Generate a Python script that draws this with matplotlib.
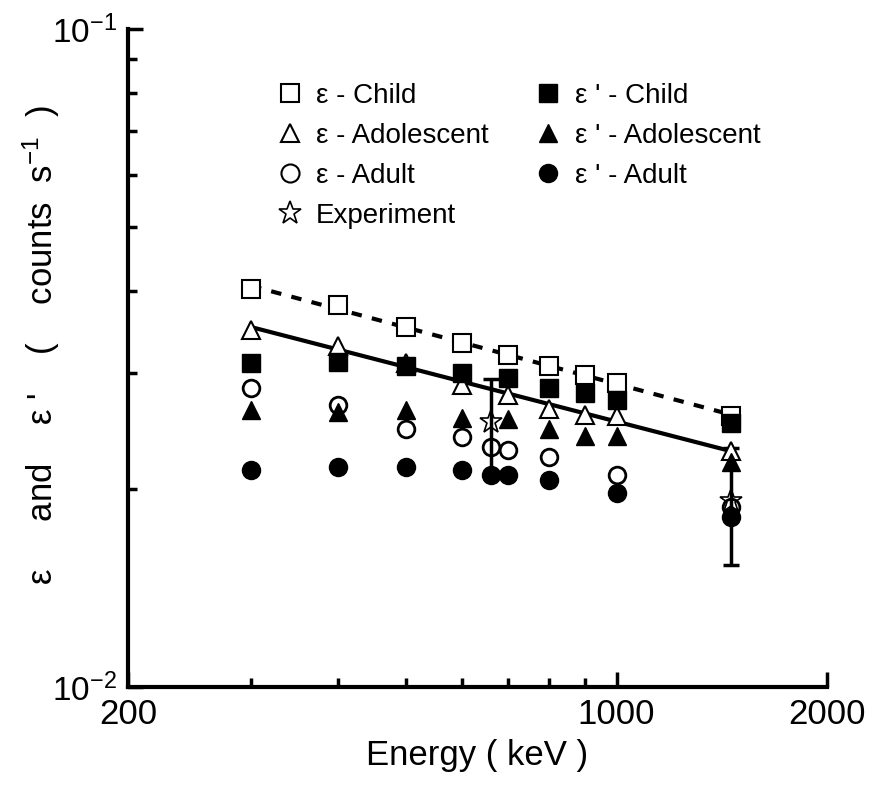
import numpy as np
import matplotlib
matplotlib.use("Agg")
import matplotlib.pyplot as plt
from matplotlib.lines import Line2D
from matplotlib.ticker import FixedLocator, NullFormatter

plt.rcParams['font.family'] = ['Liberation Sans', 'DejaVu Sans']
plt.rcParams['mathtext.fontset'] = 'custom'
plt.rcParams['mathtext.rm'] = 'Liberation Sans'
plt.rcParams['mathtext.it'] = 'Liberation Sans:italic'

# energies (keV)
e_sim = [300, 400, 500, 600, 700, 800, 900, 1000, 1460]
e_adult = [300, 400, 500, 600, 662, 700, 800, 1000, 1460]

# epsilon (counts/s)
eps_child = [0.0402, 0.0381, 0.0352, 0.0333, 0.0320, 0.0307, 0.0298, 0.0290, 0.0258]
eps_adol = [0.0349, 0.0330, 0.0311, 0.0288, 0.0278, 0.0265, 0.0259, 0.0258, 0.0228]
eps_adult = [0.0285, 0.0268, 0.0247, 0.0240, 0.0232, 0.0229, 0.0224, 0.0210, 0.0188]

# epsilon' (counts/s)
epsp_child = [0.0311, 0.0312, 0.0307, 0.0300, 0.0295, 0.0285, 0.0280, 0.0273, 0.0252]
epsp_adol = [0.0264, 0.0262, 0.0264, 0.0256, 0.0255, 0.0247, 0.0241, 0.0241, 0.0220]
epsp_adult = [0.0214, 0.0216, 0.0216, 0.0214, 0.0210, 0.0210, 0.0206, 0.0197, 0.0181]

# experiment
e_exp = [662, 1460]
eps_exp = [0.0253, 0.0192]
err_exp = [0.0041, 0.0039]

fig = plt.figure(figsize=(8.69, 7.9), dpi=100)
ax = fig.add_axes([128/869, 1-687/790, 699/869, 658/790])
ax.set_xscale('log')
ax.set_yscale('log')
ax.set_xlim(200, 2000)
ax.set_ylim(0.01, 0.1)

# power-law fits (log-log)
xf = np.array([300, 1460])
for y, ls in [(eps_child, (0, (2.5, 2.5))), (eps_adol, '-')]:
    p = np.polyfit(np.log10(e_sim), np.log10(y), 1)
    ax.plot(xf, 10**np.polyval(p, np.log10(xf)), color='k', lw=3, ls=ls, zorder=1)

ax.errorbar(e_exp, eps_exp, yerr=err_exp, fmt='none', ecolor='k',
            elinewidth=2.5, capsize=6, capthick=2.5, zorder=2)

ms = 13
ax.plot(e_sim, eps_child, 's', ms=ms, mfc='w', mec='k', mew=1.5, zorder=3)
ax.plot(e_sim, eps_adol, '^', ms=ms, mfc='w', mec='k', mew=1.5, zorder=3)
ax.plot(e_adult, eps_adult, 'o', ms=ms-1, mfc='none', mec='k', mew=2, zorder=3)
ax.plot(e_sim, epsp_child, 's', ms=ms, color='k', zorder=4)
ax.plot(e_sim, epsp_adol, '^', ms=ms, color='k', zorder=4)
ax.plot(e_adult, epsp_adult, 'o', ms=ms, color='k', zorder=4)
ax.plot(e_exp, eps_exp, '*', ms=17, mfc='none', mec='k', mew=1.2, zorder=3)

for s in ['top', 'right']:
    ax.spines[s].set_visible(False)
for s in ['left', 'bottom']:
    ax.spines[s].set_linewidth(3)

ax.xaxis.set_major_locator(FixedLocator([200, 1000, 2000]))
ax.set_xticklabels(['200', '1000', '2000'])
ax.xaxis.set_minor_locator(FixedLocator([300, 400, 500, 600, 700, 800, 900]))
ax.xaxis.set_minor_formatter(NullFormatter())
ax.yaxis.set_major_locator(FixedLocator([0.01, 0.1]))
ax.set_yticklabels([r'$10^{-2}$', r'$10^{-1}$'])
ax.yaxis.set_minor_locator(FixedLocator([0.02, 0.03, 0.04, 0.05, 0.06, 0.07, 0.08, 0.09]))
ax.yaxis.set_minor_formatter(NullFormatter())
ax.tick_params(which='both', direction='in', width=2.5)
ax.tick_params(which='major', length=11)
ax.tick_params(which='minor', length=6.5)
ax.tick_params(axis='x', which='major', labelsize=25, pad=8)
ax.tick_params(axis='y', which='major', labelsize=24, pad=8)

ax.set_xlabel('Energy ( keV )', fontsize=25, labelpad=6)
ax.set_ylabel("ε     and    ε '    (    counts  s$^{-1}$  )", fontsize=25)
ax.yaxis.set_label_coords(-0.095, 0.52)

h = [
    Line2D([], [], ls='none', marker='s', ms=ms, mfc='w', mec='k', mew=1.5),
    Line2D([], [], ls='none', marker='^', ms=ms, mfc='w', mec='k', mew=1.5),
    Line2D([], [], ls='none', marker='o', ms=ms, mfc='w', mec='k', mew=1.5),
    Line2D([], [], ls='none', marker='*', ms=17, mfc='w', mec='k', mew=1.2),
    Line2D([], [], ls='none', marker='s', ms=ms, color='k'),
    Line2D([], [], ls='none', marker='^', ms=ms, color='k'),
    Line2D([], [], ls='none', marker='o', ms=ms, color='k'),
]
labels = ['ε - Child', 'ε - Adolescent', 'ε - Adult', 'Experiment',
          "ε ' - Child", "ε ' - Adolescent", "ε ' - Adult"]
ax.legend(h, labels, ncol=2, frameon=False, fontsize=20, loc='upper left',
          bbox_to_anchor=(277/869, 1-83/790), bbox_transform=fig.transFigure,
          borderpad=0, borderaxespad=0, handlelength=0.9, handletextpad=0.5,
          labelspacing=0.5, columnspacing=1.7)

fig.savefig('out.png', dpi=100)
